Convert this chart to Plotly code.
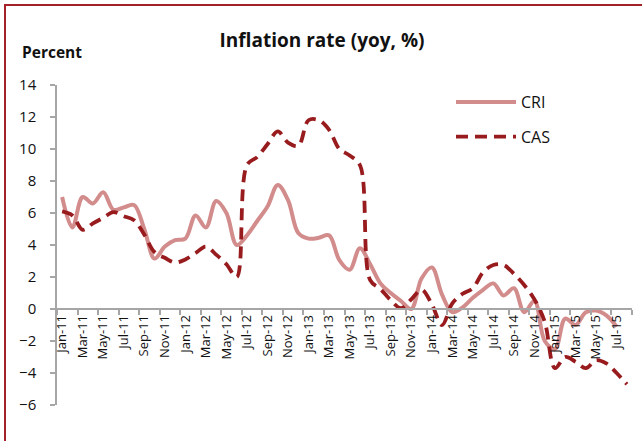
import plotly.graph_objects as go
import pandas as pd

# Categories (monthly, Jan-2011 .. Aug-2015)
months = [d.strftime("%b-%y") for d in pd.date_range("2011-01-01", periods=56, freq="MS")]

# CRI (last month missing)
cri = [7.0, 5.1, 7.0, 6.6, 7.3, 6.2, 6.35, 6.5, 5.0, 3.15, 3.9, 4.3,
       4.4, 5.85, 5.1, 6.75, 6.0, 4.0, 4.6, 5.5, 6.4, 7.75, 6.8, 4.75,
       4.4, 4.45, 4.6, 3.05, 2.45, 3.8, 2.8, 1.6, 1.0, 0.5, 0.0, 1.9,
       2.6, 0.9, -0.2, 0.1, 0.7, 1.2, 1.6, 0.85, 1.3, -0.2, 0.5, -2.0,
       -2.5, -0.6, -1.0, -0.2, -0.1, -0.4, -1.1, None]

# CAS
cas = [6.1, 5.85, 4.95, 5.35, 5.7, 6.05, 5.8, 5.55, 4.65, 3.55, 3.2, 2.9,
       3.1, 3.5, 3.9, 3.4, 2.8, 2.0, 9.0, 9.5, 10.3, 11.1, 10.4, 10.2,
       11.8, 11.8, 11.2, 10.0, 9.6, 9.0, 1.8, 1.25, 0.55, 0.05, 0.6, 1.2,
       0.3, -1.0, 0.35, 0.95, 1.3, 2.3, 2.75, 2.75, 2.2, 1.5, 0.6, -0.8,
       -3.7, -3.0, -3.3, -3.7, -3.2, -3.4, -4.0, -4.7]

y_ticks = [-6, -4, -2, 0, 2, 4, 6, 8, 10, 12, 14]

W, H = 642, 441
PL, PR, PT, PB = 57, 632, 85, 405          # plot area in window pixels
ML, MT, MR, MB = PL, PT, W - PR, H - PB
PW, PH = PR - PL, PB - PT


def px_x(p):
    return (p - PL) / PW


def px_y(p):
    return (PB - p) / PH


FONT = "'Open Sans', Lato, sans-serif"
AXIS_GRAY = "#A6A6A6"
TXT = "#111111"

fig = go.Figure()
fig.add_trace(go.Scatter(
    x=months, y=cri, name="CRI", mode="lines",
    line=dict(color="#D38C8C", width=4, shape="spline", smoothing=1.0),
    legendgroup="a", connectgaps=False,
))
fig.add_trace(go.Scatter(
    x=months, y=cas, name="CAS", mode="lines",
    line=dict(color="#981B1E", width=3.8, dash="12px,7px", shape="spline", smoothing=1.0),
    legendgroup="b",
))

fig.update_layout(
    width=W, height=H,
    margin=dict(l=ML, r=MR, t=MT, b=MB, pad=0),
    paper_bgcolor="white", plot_bgcolor="white",
    font=dict(family=FONT, color=TXT),
    title=dict(text="<b>Inflation rate (yoy, %)</b>", x=322 / W, xanchor="center",
               y=1 - 40 / H, yanchor="middle", yref="container",
               font=dict(size=19, family=FONT, color=TXT)),
    showlegend=True,
    legend=dict(x=px_x(451), y=px_y(85), xanchor="left", yanchor="top",
                font=dict(size=16, family=FONT, color=TXT),
                tracegroupgap=11, bgcolor="rgba(0,0,0,0)", itemwidth=60),
    xaxis=dict(
        type="category", categoryorder="array", categoryarray=months,
        range=[-0.5, len(months) - 0.5],
        tickmode="linear", dtick=2, tick0=0, tickson="boundaries",
        tickangle=-90, ticks="outside", ticklen=5, tickcolor=AXIS_GRAY, tickwidth=1.5,
        tickfont=dict(size=13, family=FONT, color=TXT),
        showline=True, linecolor=AXIS_GRAY, linewidth=1.5,
        showgrid=False, zeroline=False,
        anchor="free", position=0.3,
    ),
    yaxis=dict(
        range=[-6, 14], tickvals=y_ticks, ticks="outside", ticklen=5,
        tickcolor=AXIS_GRAY, tickwidth=1.5, ticklabelstandoff=11,
        tickfont=dict(size=15, family=FONT, color=TXT),
        showline=True, linecolor=AXIS_GRAY, linewidth=1.5,
        showgrid=False, zeroline=False,
    ),
)

fig.add_annotation(text="<b>Percent</b>", xref="paper", yref="paper",
                   x=px_x(20), y=px_y(52), xanchor="left", yanchor="middle",
                   showarrow=False, font=dict(size=15.5, family=FONT, color=TXT))

# outer frame (top and left edges visible)
fig.add_shape(type="rect", xref="paper", yref="paper",
              x0=px_x(5), x1=px_x(660), y0=px_y(470), y1=px_y(5),
              line=dict(color="#A3222A", width=2), layer="below")

# remove the browser's default 8px body margin so the figure sits at the window origin
fig.write_html("out.html", config={"displayModeBar": False},
               post_script="document.body.style.margin='0px';")
